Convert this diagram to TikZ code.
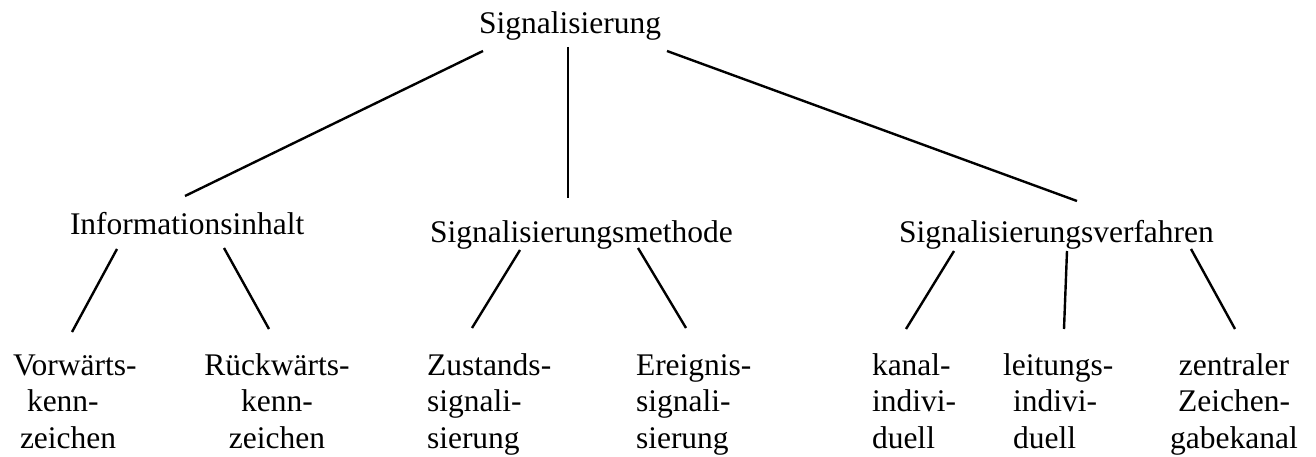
\documentclass[tikz,border=0pt]{standalone}
\usepackage{fontspec}
\setmainfont{Liberation Serif}
\usetikzlibrary{calc}
\tikzset{
  lbl/.style={inner sep=0pt, outer sep=0pt, font=\fontsize{31.5}{36.5}\selectfont},
  leafl/.style={lbl, align=left, anchor=base west},
  leafc/.style={lbl, align=center, anchor=base},
  conn/.style={line width=2.4pt, line cap=butt}
}
\begin{document}
\begin{tikzpicture}[x=1pt,y=-1pt]
\useasboundingbox (0,0) rectangle (1316,457);
% labels
\node[lbl, anchor=base west] (sig) at (479,34) {Signalisierung};
\node[lbl, anchor=base west] (info) at (70,234) {Informationsinhalt};
\node[lbl, anchor=base west] (meth) at (430,242) {Signalisierungsmethode};
\node[lbl, anchor=base west] (verf) at (899,242) {Signalisierungsverfahren};
% leaves (base anchor = baseline of last line)
\node[leafl] (vor) at (13,448) {Vorwärts-\\\hspace*{14pt}kenn-\\\hspace*{7pt}zeichen};
\node[leafc] (rueck) at (277,448) {Rückwärts-\\kenn-\\zeichen};
\node[leafl] (zust) at (427,448) {Zustands-\\signali-\\sierung};
\node[leafl] (ereig) at (636,448) {Ereignis-\\signali-\\sierung};
\node[leafl] (kanal) at (872,448) {kanal-\\indivi-\\duell};
\node[leafl] (leit) at (1003,448) {leitungs-\\\hspace*{10pt}indivi-\\\hspace*{10pt}duell};
\node[leafc] (zentr) at (1234,448) {zentraler\\Zeichen-\\gabekanal};
% connectors
\draw[conn] ($(sig.base west)+(4,17)$) -- ($(info.base west)+(115,-38)$);
\draw[conn] ($(sig.base west)+(89,13)$) -- ($(meth.base west)+(138,-44)$);
\draw[conn] ($(sig.base west)+(188,17)$) -- ($(verf.base west)+(178,-41)$);
\draw[conn] ($(info.base west)+(47,15)$) -- ($(vor.base west)+(59,-116)$);
\draw[conn] ($(info.base west)+(154,14)$) -- ($(rueck.base)+(-8,-119)$);
\draw[conn] ($(meth.base west)+(90,8)$) -- ($(zust.base west)+(45,-120)$);
\draw[conn] ($(meth.base west)+(208,6)$) -- ($(ereig.base west)+(50,-120)$);
\draw[conn] ($(verf.base west)+(55,9)$) -- ($(kanal.base west)+(34,-119)$);
\draw[conn] ($(verf.base west)+(168,9)$) -- ($(leit.base west)+(61,-119)$);
\draw[conn] ($(verf.base west)+(292,7)$) -- ($(zentr.base)+(1,-119)$);
\end{tikzpicture}
\end{document}
